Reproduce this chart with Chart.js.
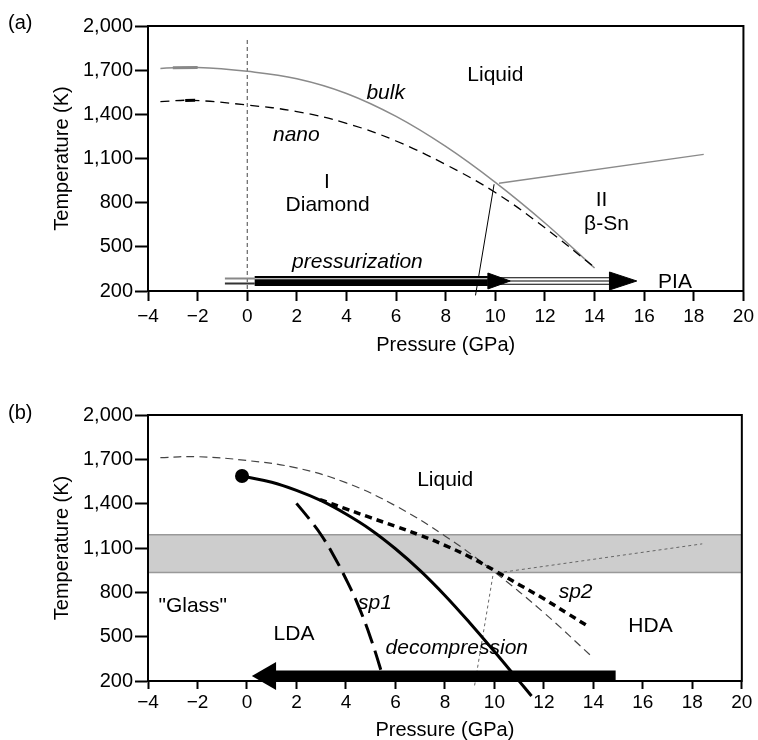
<!DOCTYPE html>
<html>
<head>
<meta charset="utf-8">
<script src="https://cdn.jsdelivr.net/npm/chart.js@4.4.1/dist/chart.umd.min.js"></script>
<style>
  html, body { margin: 0; padding: 0; background: #fff; overflow: hidden; }
  .panel { width: 758px; height: 370px; }
  canvas { display: block; }
</style>
</head>
<body>
<div class="panel"><canvas id="chartA" width="758" height="370"></canvas></div>
<div class="panel"><canvas id="chartB" width="758" height="370"></canvas></div>
<script>
// ── DATA (pressure in GPa, temperature in K) ─────────────────────
const xTicksP = [-4, 20, 2]          // min, max, step
const yTicksT = [200, 2000, 300]

// melting line, bulk Si
const bulkP = [-3.5, -2, 0, 2, 4, 6, 8, 10, 12, 14]
const bulkT = [1712, 1718, 1692, 1642, 1542, 1386, 1182, 938, 662, 356]
const bulkMarkP = [-3, -2]
const bulkMarkT = [1717, 1718]

// melting line, nano Si
const nanoP = [-3.5, -2.2, 0, 2, 4, 6, 8, 10, 12, 14]
const nanoT = [1487, 1495, 1463, 1419, 1339, 1219, 1059, 869, 629, 360]
const nanoMarkP = [-2.5, -2.1]
const nanoMarkT = [1494, 1495]

// I / II boundary and II / liquid boundary
const boundaryP = [9.2, 9.95]
const boundaryT = [170, 925]
const liquidIIP = [10.15, 18.4]
const liquidIIT = [932, 1128]

// dashed guide at P = 0
const zeroP = [0, 0]
const zeroT = [1905, 200]

// pressurization path (a)
const pressT      = 268
const pressTailP  = [-0.9, 0.3]
const pressShaftP = [0.3, 9.7]
const pressHead1P = [9.7, 10.6]
const pressThinP  = [9.7, 14.6]
const pressHead2P = [14.6, 15.7]

// liquid-liquid critical point and transition line (b)
const criticalP = [-0.2]
const criticalT = [1587]
const llP = [-0.2, 1, 2, 3, 4, 5, 6, 7, 8, 9, 10, 11, 11.5]
const llT = [1587, 1545, 1490, 1420, 1330, 1224, 1095, 947, 779, 594, 399, 199, 99]

// spinodals
const sp1P = [2, 2.5, 3, 3.5, 4, 4.5, 5, 5.55]
const sp1T = [1402, 1300, 1188, 1050, 890, 710, 490, 200]
const sp2P = [2.95, 4, 5, 6, 7, 8, 9, 10, 11, 12, 13, 13.7]
const sp2T = [1428, 1365, 1305, 1247, 1186, 1118, 1040, 948, 852, 756, 652, 579]

// glass transition band
const bandT = [935, 1190]

// decompression path (b)
const decompT      = 234
const decompShaftP = [14.9, 1.1]
const decompHeadP  = [1.2, 0.15]

// ── HELPERS ──────────────────────────────────────────────────────
const FONT = "'Liberation Sans', Arial, Helvetica, sans-serif"
Chart.defaults.font.family = FONT
Chart.defaults.color = '#000'

const pts = (ps, ts) => ps.map((p, i) => ({ x: p, y: Array.isArray(ts) ? ts[i] : ts }))

const line = (data, style) => Object.assign({
    data, showLine: true, pointRadius: 0, borderColor: '#000', borderWidth: 1.5, fill: false
}, style)

const smooth = { tension: 0.4 }

// closed triangle: base -> tip, half height in K
const head = ([base, tip], t, half) => [
    { x: base, y: t + half }, { x: tip, y: t }, { x: base, y: t - half }, { x: base, y: t + half }
]
const headStyle = { fill: 'shape', backgroundColor: '#000', borderWidth: 1, clip: false }

// left-pointing triangle marker (not clipped by the plot area); centroid sits 2/3 of the way from tip to base
const headMarker = ([base, tip], t, halfPx) => line([{ x: tip + (base - tip) * 2 / 3, y: t }], {
    showLine: false, clip: false, pointStyle: 'triangle', rotation: -90,
    pointRadius: halfPx / Math.cos(Math.PI / 6), pointBackgroundColor: '#000', pointBorderWidth: 0
})

const fmt = v => v < 0 ? '\u2212' + Math.abs(v) : v.toLocaleString('en-US')

// labels inside the plot + frame + panel letter
const notes = {
    id: 'notes',
    afterDraw(chart, args, opts) {
        const { ctx, chartArea: a, scales: { x, y } } = chart
        ctx.save()
        ctx.fillStyle = '#000'
        ctx.textBaseline = 'middle'
        ctx.textAlign = 'center'
        ;(opts.items || []).forEach(([txt, p, t, it]) => {
            ctx.font = (it ? 'italic ' : '') + '21px ' + FONT
            ctx.fillText(txt, x.getPixelForValue(p), y.getPixelForValue(t))
        })
        ctx.textAlign = 'left'
        ctx.font = '20px ' + FONT
        ctx.fillText(opts.panel, 8, a.top + opts.panelDy)
        ctx.strokeStyle = '#000'
        ctx.lineWidth = 2
        ctx.strokeRect(a.left, a.top, a.right - a.left, a.bottom - a.top)
        ctx.restore()
    }
}

function options({ top, axisH, tickLen, tickPad, titlePad, items, panel, panelDy }) {
    return {
        responsive: false,
        animation: false,
        events: [],
        layout: { padding: { top, right: 10, bottom: 0, left: 0 } },
        plugins: { legend: { display: false }, tooltip: { enabled: false }, notes: { items, panel, panelDy } },
        scales: {
            x: {
                type: 'linear', min: xTicksP[0], max: xTicksP[1],
                ticks: { stepSize: xTicksP[2], autoSkip: false, maxRotation: 0, padding: tickPad, font: { size: 19 }, callback: fmt },
                grid: { drawOnChartArea: false, tickLength: tickLen, tickWidth: 2, tickColor: '#000' },
                border: { color: '#000', width: 2 },
                title: { display: true, text: 'Pressure (GPa)', font: { size: 20 }, padding: { top: 0, bottom: titlePad } },
                afterFit: s => { s.height = axisH }
            },
            y: {
                type: 'linear', min: yTicksT[0], max: yTicksT[1],
                ticks: { stepSize: yTicksT[2], padding: 2, font: { size: 20 }, callback: fmt },
                grid: { drawOnChartArea: false, tickLength: 13, tickWidth: 2, tickColor: '#000' },
                border: { color: '#000', width: 2 },
                title: { display: true, text: 'Temperature (K)', font: { size: 20 }, padding: { top: 50, bottom: 0 } },
                afterFit: s => { s.width = 148 }
            }
        }
    }
}

// ── (a) pressurization of nano Si ────────────────────────────────
new Chart(document.getElementById('chartA'), {
    type: 'scatter',
    data: {
        datasets: [
            line(head(pressHead1P, pressT, 54), headStyle),
            line(head(pressHead2P, pressT, 61), headStyle),
            line(pts(pressShaftP, pressT + 15), { borderColor: '#fff', borderWidth: 1 }),
            line(pts(pressShaftP, pressT), { borderWidth: 10 }),
            line(pts(pressThinP, pressT + 22), { borderWidth: 1.2 }),
            line(pts(pressThinP, pressT), { borderWidth: 1.2 }),
            line(pts(pressThinP, pressT - 22), { borderWidth: 1.2 }),
            line(pts(pressTailP, pressT + 17), { borderColor: '#888', borderWidth: 2 }),
            line(pts(pressTailP, pressT - 17), { borderColor: '#333', borderWidth: 2 }),
            line(pts(boundaryP, boundaryT), { borderWidth: 1, clip: false }),
            line(pts(liquidIIP, liquidIIT), { borderColor: '#8a8a8a', borderWidth: 1.3 }),
            line(pts(nanoMarkP, nanoMarkT), { borderWidth: 3 }),
            line(pts(nanoP, nanoT), Object.assign({ borderWidth: 1.3, borderDash: [9, 6] }, smooth)),
            line(pts(bulkMarkP, bulkMarkT), { borderColor: '#888', borderWidth: 3 }),
            line(pts(bulkP, bulkT), Object.assign({ borderColor: '#8a8a8a', borderWidth: 1.5 }, smooth)),
            line(pts(zeroP, zeroT), { borderColor: '#444', borderWidth: 1, borderDash: [4, 3] })
        ]
    },
    options: options({
        top: 26, axisH: 79, tickLen: 10, tickPad: 4, titlePad: 13, panel: '(a)', panelDy: -3,
        items: [
            ['Liquid', 10.0, 1667], ['bulk', 5.58, 1543, true], ['nano', 1.98, 1259, true],
            ['I', 3.21, 942], ['Diamond', 3.24, 784], ['II', 14.28, 818], ['\u03b2-Sn', 14.48, 655],
            ['pressurization', 4.44, 399, true], ['PIA', 17.24, 263]
        ]
    }),
    plugins: [notes]
})

// ── (b) decompression of HDA ─────────────────────────────────────
new Chart(document.getElementById('chartB'), {
    type: 'scatter',
    data: {
        datasets: [
            line(pts(criticalP, criticalT), { showLine: false, pointRadius: 7, pointBackgroundColor: '#000', pointBorderWidth: 0 }),
            headMarker(decompHeadP, decompT, 14),
            line(pts(decompShaftP, decompT), { borderWidth: 11, clip: false }),
            line(pts(llP, llT), Object.assign({ borderWidth: 3, clip: false }, smooth)),
            line(pts(sp1P, sp1T), Object.assign({ borderWidth: 3, borderDash: [20, 8] }, smooth)),
            line(pts(sp2P, sp2T), Object.assign({ borderWidth: 3.5, borderDash: [7, 5] }, smooth)),
            line(pts(bulkP, bulkT), Object.assign({ borderColor: '#444', borderWidth: 1.2, borderDash: [8, 5] }, smooth)),
            line(pts(boundaryP, boundaryT), { borderColor: '#666', borderWidth: 1, borderDash: [3, 3], clip: false }),
            line(pts(liquidIIP, liquidIIT), { borderColor: '#666', borderWidth: 1, borderDash: [3, 3] }),
            line(pts(xTicksP.slice(0, 2), bandT[0]), { borderColor: '#999', borderWidth: 1.5 }),
            line(pts(xTicksP.slice(0, 2), bandT[1]), { borderColor: '#999', borderWidth: 1.5, fill: { value: bandT[0] }, backgroundColor: '#cdcdcd' })
        ]
    },
    options: options({
        top: 45, axisH: 59, tickLen: 8, tickPad: 2, titlePad: -2, panel: '(b)', panelDy: -2,
        items: [
            ['Liquid', 8.01, 1560], ['"Glass"', -2.19, 708], ['LDA', 1.9, 515],
            ['sp1', 5.17, 726, true], ['sp2', 13.28, 804, true], ['HDA', 16.31, 568],
            ['decompression', 8.48, 421, true]
        ]
    }),
    plugins: [notes]
})
</script>
</body>
</html>
